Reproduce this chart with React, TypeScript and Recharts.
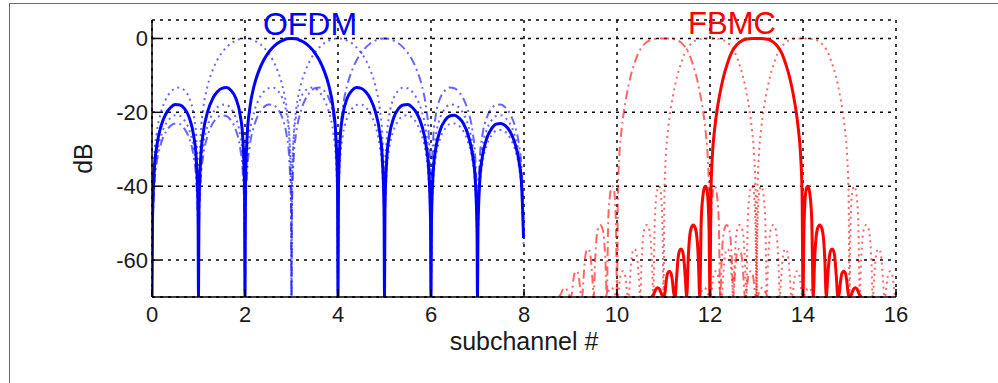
import { LineChart, Line, XAxis, YAxis, CartesianGrid } from 'recharts';

// OFDM subcarrier spectrum, one side: offset from the subcarrier centre -> dB
const ofdmOffsets = [
  0, 0.1, 0.2, 0.3, 0.4, 0.5, 0.6, 0.7, 0.8, 0.9, 0.95, 0.99, 1,
  1.01, 1.05, 1.1, 1.2, 1.3, 1.4, 1.5, 1.6, 1.7, 1.8, 1.9, 1.95, 1.99, 2,
  2.01, 2.05, 2.1, 2.2, 2.3, 2.4, 2.5, 2.6, 2.7, 2.8, 2.9, 2.95, 2.99, 3,
  3.01, 3.05, 3.1, 3.2, 3.3, 3.4, 3.5, 3.6, 3.7, 3.8, 3.9, 3.95, 3.99, 4,
  4.01, 4.05, 4.1, 4.2, 4.3, 4.4, 4.5, 4.6, 4.7, 4.8, 4.9, 4.95, 4.99, 5,
  5.01, 5.05, 5.1, 5.2, 5.3, 5.4, 5.5, 5.6, 5.7, 5.8, 5.9, 5.95, 5.99, 6,
];
const ofdmDb = [
  0, -0.1, -0.6, -1.3, -2.4, -3.9, -5.9, -8.7, -12.6, -19.2, -25.6, -40, -70,
  -40, -26.5, -21, -16.1, -14.1, -13.3, -13.5, -14.5, -16.4, -19.7, -25.7, -31.9, -46, -70,
  -46, -32.3, -26.6, -21.4, -19, -18, -17.9, -18.7, -20.4, -23.5, -29.4, -35.5, -49.5, -70,
  -49.5, -35.7, -30, -24.7, -22.2, -21, -20.8, -21.5, -23.1, -26.2, -32, -38, -52, -70,
  -52, -38.2, -32.4, -27, -24.5, -23.2, -23, -23.6, -25.2, -28.2, -33.9, -40, -54, -70,
  -54, -40.1, -34.3, -28.9, -26.3, -25, -24.8, -25.3, -26.9, -29.8, -35.6, -41.5, -55.6, -70,
];

// FBMC subcarrier spectrum, one side
const fbmcOffsets = [
  0, 0.1, 0.2, 0.3, 0.375, 0.45, 0.5, 0.55, 0.625, 0.7, 0.75, 0.8, 0.85, 0.9, 0.95, 0.98, 1,
  1.02, 1.04, 1.07, 1.1, 1.13, 1.16, 1.19, 1.22,
  1.25, 1.28, 1.32, 1.36, 1.4, 1.44, 1.47, 1.5,
  1.53, 1.56, 1.59, 1.625, 1.66, 1.69, 1.72, 1.75,
  1.78, 1.81, 1.84, 1.875, 1.91, 1.94, 1.97, 2,
  2.05, 2.09, 2.125, 2.16, 2.2, 2.25,
];
const fbmcDb = [
  0, -0.02, -0.15, -0.5, -1.1, -2.1, -3, -4.2, -6.8, -9.9, -12.6, -15.8, -19.5, -24.5, -32, -42, -70,
  -52, -44.5, -40.8, -40, -40.8, -43.5, -50, -70,
  -60, -54, -51.2, -50.5, -51.2, -54, -60, -70,
  -65, -60, -57.6, -57, -57.6, -60, -65, -70,
  -69, -65.5, -63.5, -63, -63.5, -65.5, -69, -70,
  -69, -67.8, -67.5, -67.8, -69, -70,
];

const ofdmRange = [0, 7.99];
const fbmcRange = [8.75, 16];

const ofdmMain = 3;
const ofdmDotted = [2, 4];
const ofdmDashDot = [5];
const fbmcMain = 13;
const fbmcDotted = [12, 14];
const fbmcDashDot = [11];

const xTicks = [0, 2, 4, 6, 8, 10, 12, 14, 16];
const yTicks = [-60, -40, -20, 0];

type Pt = { x: number; y: number };

function subcarrier(offsets: number[], db: number[], centre: number, range: number[]): Pt[] {
  const pts: Pt[] = [];
  offsets.forEach((d, i) => {
    pts.push({ x: Math.round((centre - d) * 1000) / 1000, y: db[i] });
    if (d > 0) pts.push({ x: Math.round((centre + d) * 1000) / 1000, y: db[i] });
  });
  return pts.filter((p) => p.x >= range[0] && p.x <= range[1]).sort((a, b) => a.x - b.x);
}

const BLUE = '#0000ff';
const RED = '#ff0000';
const FONT = '"Liberation Sans", Arial, Helvetica, sans-serif';
const DOTTED = '2 4';
const DASHDOT = '9 4 2 4';

export default function App() {
  const axisStyle = { stroke: '#000', strokeWidth: 1.5 };
  const tickStyle = { fontSize: 22, fill: '#1a1a1a', fontFamily: FONT };
  const titleStyle = { fontSize: 25, fill: '#1a1a1a', fontFamily: FONT };

  const faint = (key: string, data: Pt[], color: string, dash: string) => (
    <Line
      key={key}
      data={data}
      dataKey="y"
      type="monotone"
      stroke={color}
      strokeOpacity={0.6}
      strokeWidth={2}
      strokeDasharray={dash}
      dot={false}
      activeDot={false}
      isAnimationActive={false}
    />
  );

  return (
    <div style={{ position: 'absolute', left: 0, top: 0, width: 998, height: 383, background: '#fff', fontFamily: FONT }}>
      <div
        style={{
          position: 'absolute',
          left: 9,
          top: 3,
          right: 0,
          bottom: 0,
          borderLeft: '1px solid #6b6b6b',
          borderTop: '1px solid #6b6b6b',
        }}
      />
      <LineChart
        width={998}
        height={383}
        margin={{ top: 20, right: 102, bottom: 56, left: 14 }}
        style={{ position: 'absolute', left: 0, top: 0 }}
      >
        <CartesianGrid stroke="#000" strokeWidth={1.5} strokeDasharray="3 5" />
        <XAxis
          type="number"
          dataKey="x"
          domain={[0, 16]}
          ticks={xTicks}
          allowDataOverflow
          height={30}
          tickSize={-8}
          tickMargin={17}
          axisLine={axisStyle}
          tickLine={axisStyle}
          tick={tickStyle}
          label={{ value: 'subchannel #', position: 'bottom', offset: 5, style: titleStyle }}
        />
        <YAxis
          type="number"
          domain={[-70, 5]}
          ticks={yTicks}
          allowDataOverflow
          width={138}
          tickSize={-8}
          tickMargin={12}
          axisLine={axisStyle}
          tickLine={axisStyle}
          tick={tickStyle}
          label={{ value: 'dB', angle: -90, position: 'center', style: titleStyle }}
        />
        {ofdmDotted.map((c) => faint(`od${c}`, subcarrier(ofdmOffsets, ofdmDb, c, ofdmRange), BLUE, DOTTED))}
        {ofdmDashDot.map((c) => faint(`oa${c}`, subcarrier(ofdmOffsets, ofdmDb, c, ofdmRange), BLUE, DASHDOT))}
        {fbmcDotted.map((c) => faint(`fd${c}`, subcarrier(fbmcOffsets, fbmcDb, c, fbmcRange), RED, DOTTED))}
        {fbmcDashDot.map((c) => faint(`fa${c}`, subcarrier(fbmcOffsets, fbmcDb, c, fbmcRange), RED, DASHDOT))}
        <Line
          data={subcarrier(ofdmOffsets, ofdmDb, ofdmMain, ofdmRange)}
          dataKey="y"
          type="monotone"
          stroke={BLUE}
          strokeWidth={3}
          dot={false}
          activeDot={false}
          isAnimationActive={false}
        />
        <Line
          data={subcarrier(fbmcOffsets, fbmcDb, fbmcMain, fbmcRange)}
          dataKey="y"
          type="monotone"
          stroke={RED}
          strokeWidth={3}
          dot={false}
          activeDot={false}
          isAnimationActive={false}
        />
      </LineChart>
      <div style={{ position: 'absolute', left: 310, top: 8, transform: 'translateX(-50%)', fontSize: 32, lineHeight: 1, color: BLUE, whiteSpace: 'nowrap' }}>
        OFDM
      </div>
      <div style={{ position: 'absolute', left: 732, top: 8, transform: 'translateX(-50%)', fontSize: 31, lineHeight: 1, color: RED, whiteSpace: 'nowrap' }}>
        FBMC
      </div>
    </div>
  );
}
